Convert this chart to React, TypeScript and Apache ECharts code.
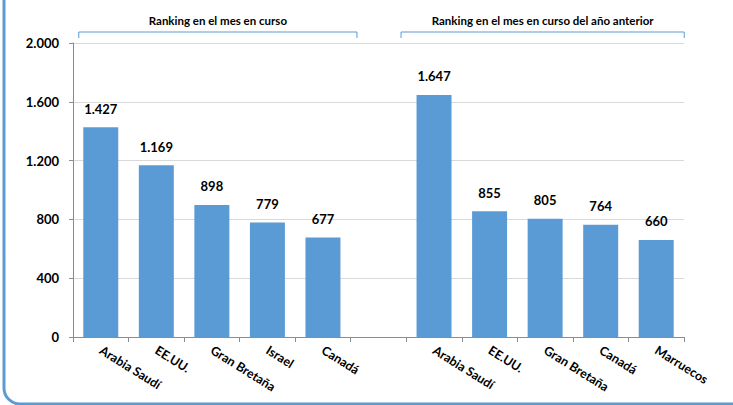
import React, { useEffect, useRef } from "react";
import * as echarts from "echarts";

const categories = ["Arabia Saudí", "EE.UU.", "Gran Bretaña", "Israel", "Canadá", "", "Arabia Saudí ", "EE.UU. ", "Gran Bretaña ", "Canadá ", "Marruecos"];
const values: (number | null)[] = [1427, 1169, 898, 779, 677, null, 1647, 855, 805, 764, 660];
const groupTitles = ["Ranking en el mes en curso", "Ranking en el mes en curso del año anterior"];
const yTicks = [0, 400, 800, 1200, 1600, 2000];

const FONT = "Lato, 'Open Sans', sans-serif";
const BLUE = "#5b9bd5";

function fmt(v: number) {
  return String(Math.round(v)).replace(/\B(?=(\d{3})+(?!\d))/g, ".");
}

export default function App() {
  const ref = useRef<HTMLDivElement>(null);
  useEffect(() => {
    if (!ref.current) return;
    const chart = echarts.init(ref.current, undefined, { renderer: "svg" });
    chart.setOption({
      animation: false,
      grid: { left: 73, right: 49, top: 43, bottom: 68 },
      xAxis: {
        type: "category",
        data: categories,
        axisLine: { lineStyle: { color: "#8c8c8c" } },
        axisTick: { show: true, length: 5, lineStyle: { color: "#8c8c8c" } },
        axisLabel: {
          rotate: -32,
          interval: 0,
          margin: 12,
          color: "#000",
          fontWeight: "bold",
          fontSize: 12.5,
          fontFamily: FONT,
          formatter: (v: string) => v.trim(),
        },
      },
      yAxis: {
        type: "value",
        min: 0,
        max: yTicks[yTicks.length - 1],
        interval: 400,
        axisLine: { show: true, lineStyle: { color: "#8c8c8c" } },
        axisTick: { show: true, length: 4, lineStyle: { color: "#8c8c8c" } },
        splitLine: { lineStyle: { color: "#d9d9d9" } },
        axisLabel: {
          color: "#000",
          fontWeight: "bold",
          fontSize: 13,
          fontFamily: FONT,
          margin: 14,
          formatter: (v: number) => fmt(v),
        },
      },
      series: [
        {
          type: "bar",
          data: values,
          barWidth: "63%",
          itemStyle: { color: BLUE },
          label: {
            show: true,
            position: "top",
            distance: 12,
            color: "#000",
            fontWeight: "bold",
            fontSize: 13,
            fontFamily: FONT,
            formatter: (p: any) => fmt(p.value),
          },
        },
      ],
    });

    const cx = (i: number) => chart.convertToPixel({ xAxisIndex: 0 }, categories[i]) as number;
    const bx = [
      [cx(0) - 22, cx(4) + 34],
      [cx(6) - 33, cx(10) + 28],
    ];
    const by = 32;
    const graphics: any[] = [
      {
        type: "rect",
        shape: { x: 4, y: -30, width: 760, height: 434, r: 16 },
        style: { fill: "none", stroke: BLUE, lineWidth: 3 },
        silent: true,
      },
    ];
    bx.forEach(([a, b], k) => {
      graphics.push({
        type: "polyline",
        shape: { points: [[a, by + 6], [a, by], [b, by], [b, by + 6]] },
        style: { stroke: BLUE, lineWidth: 1, fill: "none" },
      });
      graphics.push({
        type: "text",
        x: (a + b) / 2,
        y: 20,
        style: {
          text: groupTitles[k],
          align: "center",
          verticalAlign: "middle",
          fontWeight: "bold",
          fontSize: 11.5,
          fontFamily: FONT,
          fill: "#000",
        },
      });
    });
    chart.setOption({ graphic: graphics });
    return () => chart.dispose();
  }, []);
  return (
    <div
      ref={ref}
      style={{ position: "fixed", left: 0, top: 0, width: 733, height: 405, background: "#fff" }}
    />
  );
}
